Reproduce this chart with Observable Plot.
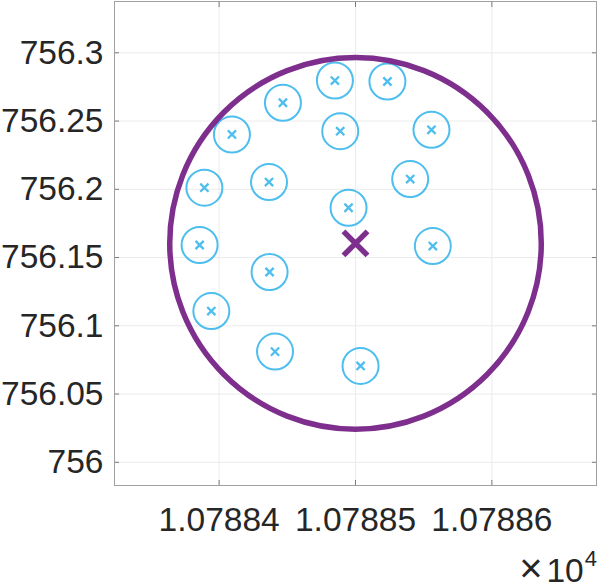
<!DOCTYPE html>
<html><head><meta charset="utf-8">
<script src="https://cdn.jsdelivr.net/npm/d3@7"></script>
<script src="https://cdn.jsdelivr.net/npm/@observablehq/plot@0.6"></script>
<style>body{margin:0;background:#fff}#chart{width:598px;height:585px}</style>
</head><body><div id="chart"></div>
<script>
// measured points (x in raw units; axis shown ×10^4)
const pointX = [10788.4849, 10788.5234, 10788.4468, 10788.4094, 10788.4888, 10788.5557, 10788.3892, 10788.4366,
                10788.4949, 10788.5401, 10788.3857, 10788.4370, 10788.5567, 10788.3943, 10788.4410, 10788.5037];
const pointY = [756.2797, 756.2790, 756.2634, 756.2402, 756.2426, 756.2436, 756.2012, 756.2053,
                756.1865, 756.2075, 756.1592, 756.1394, 756.1584, 756.1108, 756.0811, 756.0706];
const centerX = [10788.5];
const centerY = [756.1604];
const circleRadius = 0.1362; // data units
const xTicks = [10788.4, 10788.5, 10788.6];
const yTicks = [756, 756.05, 756.1, 756.15, 756.2, 756.25, 756.3];
const xDomain = [10788.3233, 10788.6767];
const yDomain = [755.983, 756.3376];

const W = 598, H = 585, mL = 114, mR = 2, mT = 1, mB = 100;
const points = pointX.map((x, i) => ({x, y: pointY[i]}));
const center = centerX.map((x, i) => ({x, y: centerY[i]}));
const pxPerUnit = (W - mL - mR) / (xDomain[1] - xDomain[0]);

const blue = "#4DBEEE", purple = "#7E2F8E";
const xFmt = d => (d / 1e4).toFixed(5);
const yFmt = d => String(+d.toFixed(2));
const tickOpts = {tickSize: -5, tickFormat: () => "", stroke: "#7a7a7a", label: null};

const plot = Plot.plot({
  width: W, height: H,
  marginLeft: mL, marginRight: mR, marginTop: mT, marginBottom: mB,
  style: {fontFamily: "'Liberation Sans', Arial, sans-serif", fontSize: "33.5px", color: "#262626", background: "#fff"},
  x: {domain: xDomain, axis: null, label: null},
  y: {domain: yDomain, axis: null, label: null},
  marks: [
    Plot.gridX(xTicks, {stroke: "#ebebeb", strokeOpacity: 1}),
    Plot.gridY(yTicks, {stroke: "#ebebeb", strokeOpacity: 1}),
    Plot.axisX(xTicks, {anchor: "bottom", tickSize: 0, tickPadding: 22, tickFormat: xFmt, label: null}),
    Plot.axisY(yTicks, {anchor: "left", tickSize: 0, tickPadding: 11, tickFormat: yFmt, label: null}),
    Plot.axisX(xTicks, {anchor: "bottom", ...tickOpts}),
    Plot.axisX(xTicks, {anchor: "top", ...tickOpts}),
    Plot.axisY(yTicks, {anchor: "left", ...tickOpts}),
    Plot.axisY(yTicks, {anchor: "right", ...tickOpts}),
    Plot.frame({stroke: "#a0a0a0", strokeWidth: 1}),
    Plot.dot(points, {x: "x", y: "y", r: 18, stroke: blue, strokeWidth: 2}),
    Plot.dot(points, {x: "x", y: "y", r: 3.8, symbol: "times", stroke: blue, strokeWidth: 2.3}),
    Plot.dot(center, {x: "x", y: "y", r: circleRadius * pxPerUnit, stroke: purple, strokeWidth: 5.5}),
    Plot.dot(center, {x: "x", y: "y", r: 11, symbol: "times", stroke: purple, strokeWidth: 5.5})
  ]
});

// exponent label ×10^4
const svg = d3.select(plot);
const t = svg.append("text")
  .attr("x", W - 1).attr("y", 582)
  .attr("text-anchor", "end")
  .attr("fill", "#262626")
  .style("font-size", "33.5px");
t.append("tspan").style("font-size", "40px").text("×");
t.append("tspan").attr("dx", 4).text("10");
t.append("tspan").attr("dy", -16).attr("dx", 1).style("font-size", "22px").text("4");

document.getElementById("chart").append(plot);
</script>
</body></html>
